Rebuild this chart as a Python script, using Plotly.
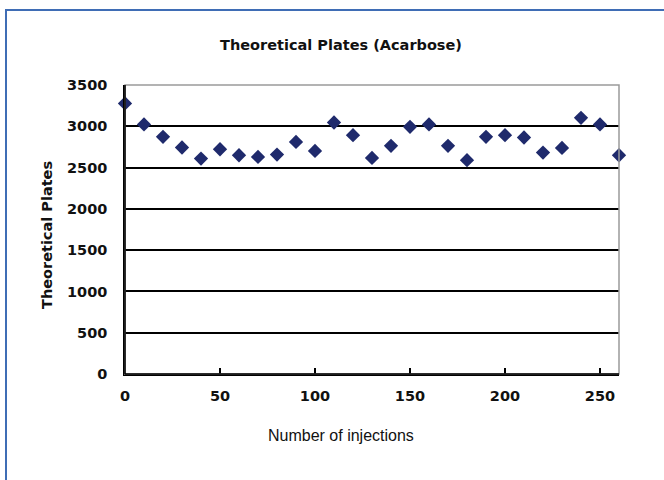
import plotly.graph_objects as go

injections = [0, 10, 20, 30, 40, 50, 60, 70, 80, 90, 100, 110, 120, 130,
              140, 150, 160, 170, 180, 190, 200, 210, 220, 230, 240, 250, 260]
plates = [3277, 3022, 2872, 2743, 2609, 2722, 2649, 2629, 2658, 2811, 2702, 3046, 2892, 2617,
          2763, 2994, 3022, 2763, 2589, 2872, 2892, 2864, 2682, 2738, 3103, 3022, 2649]

x_ticks = [0, 50, 100, 150, 200, 250]
y_ticks = [0, 500, 1000, 1500, 2000, 2500, 3000, 3500]

title_text = "Theoretical Plates (Acarbose)"
x_title = "Number of injections"
y_title = "Theoretical Plates"

fig = go.Figure()
fig.add_trace(go.Scatter(
    x=injections, y=plates, mode="markers",
    marker=dict(symbol="diamond", size=11, color="#1f2a6c", line=dict(width=0)),
    showlegend=False, cliponaxis=False,
))

tick_font = dict(family="DejaVu Sans", size=14.5, color="#111111", weight="bold")

fig.update_layout(
    width=664, height=480,
    margin=dict(l=125, r=45, t=85, b=106),
    paper_bgcolor="white", plot_bgcolor="white",
    title=dict(text=title_text, x=341 / 664, xanchor="center", y=1 - 45 / 480, yanchor="middle",
               font=dict(family="DejaVu Sans", size=14.5, color="#111111", weight="bold")),
    xaxis=dict(range=[0, 260], tickvals=x_ticks, showgrid=False, zeroline=False,
               showline=True, linecolor="black", linewidth=1.5,
               ticks="inside", ticklen=6, tickwidth=1.5, tickcolor="black",
               tickfont=tick_font, ticklabelstandoff=8),
    yaxis=dict(range=[0, 3500], tickvals=y_ticks, showgrid=True, gridcolor="black", gridwidth=1.5,
               zeroline=False, showline=True, linecolor="black", linewidth=1.5,
               ticks="", tickfont=tick_font, ticklabelstandoff=13),
    shapes=[
        dict(type="rect", xref="paper", yref="paper", x0=0, x1=1, y0=0, y1=1,
             line=dict(color="#9a9a9a", width=1.5), layer="above"),
        dict(type="line", xref="paper", yref="paper", x0=0, x1=0, y0=0, y1=1,
             line=dict(color="black", width=1.5), layer="above"),
        dict(type="line", xref="paper", yref="paper", x0=0, x1=1, y0=0, y1=0,
             line=dict(color="black", width=1.5), layer="above"),
        dict(type="rect", xref="paper", yref="paper",
             x0=(6 - 125) / 494, x1=1.2, y0=-0.5, y1=(374 - 10) / 289,
             line=dict(color="#3f6db5", width=2), layer="below"),
    ],
    annotations=[
        dict(text=x_title, xref="paper", yref="paper", x=(341 - 125) / 494, y=(374 - 435) / 289,
             showarrow=False, xanchor="center", yanchor="middle",
             font=dict(family="Liberation Sans", size=16, color="#111111")),
        dict(text=y_title, xref="paper", yref="paper", x=(47 - 125) / 494, y=(374 - 235) / 289,
             showarrow=False, xanchor="center", yanchor="middle", textangle=-90,
             font=dict(family="DejaVu Sans", size=14.5, color="#111111", weight="bold")),
    ],
)

fig.write_html("out.html", config={"displayModeBar": False},
               post_script="document.body.style.margin='0';")
